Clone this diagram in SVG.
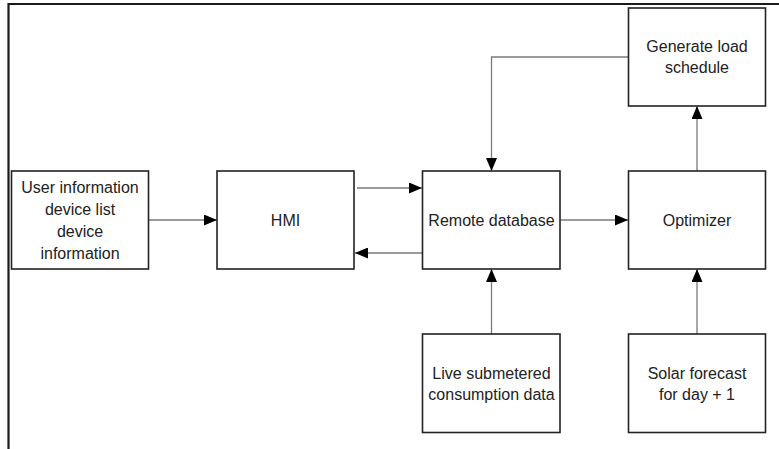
<svg xmlns="http://www.w3.org/2000/svg" width="779" height="449" viewBox="0 0 779 449">
<style>
.box{fill:#fff;stroke:#222;stroke-width:1.6}
.t{font-family:"Liberation Sans",Arial,sans-serif;font-size:16px;fill:#222;text-anchor:middle}
.c{fill:none;stroke:#7a7a7a;stroke-width:1.3}
.frame{fill:none;stroke:#1a1a1a;stroke-width:2.2}
</style>
<defs>
<marker id="ah" viewBox="0 0 13 11" refX="13" refY="5.5" markerWidth="13" markerHeight="11" markerUnits="userSpaceOnUse" orient="auto">
<path d="M0,0 L13,5.5 L0,11 z" fill="#000"/>
</marker>
</defs>
<rect width="779" height="449" fill="#fff"/>
<path class="frame" d="M8.5,449 L8.5,4 L779,4"/>
<g id="connectors">
<line class="c" x1="149" y1="220" x2="217" y2="220" marker-end="url(#ah)"/>
<line class="c" x1="357" y1="188" x2="422" y2="188" marker-end="url(#ah)"/>
<line class="c" x1="422" y1="253" x2="355" y2="253" marker-end="url(#ah)"/>
<line class="c" x1="560" y1="220" x2="628" y2="220" marker-end="url(#ah)"/>
<path class="c" d="M628,57 L491.5,57 L491.5,171" marker-end="url(#ah)"/>
<line class="c" x1="697" y1="171" x2="697" y2="106" marker-end="url(#ah)"/>
<line class="c" x1="491.5" y1="334" x2="491.5" y2="269" marker-end="url(#ah)"/>
<line class="c" x1="697" y1="334" x2="697" y2="269" marker-end="url(#ah)"/>
</g>
<g id="user">
<rect class="box" x="11.5" y="171" width="137" height="98"/>
<text class="t" x="80" y="193">User information</text>
<text class="t" x="80" y="215">device list</text>
<text class="t" x="80" y="237">device</text>
<text class="t" x="80" y="259">information</text>
</g>
<g id="hmi">
<rect class="box" x="217" y="171" width="137" height="98"/>
<text class="t" x="285.5" y="226">HMI</text>
</g>
<g id="remote">
<rect class="box" x="422.5" y="171" width="137.5" height="98"/>
<text class="t" x="491.5" y="226">Remote database</text>
</g>
<g id="optimizer">
<rect class="box" x="628.5" y="171" width="137" height="98"/>
<text class="t" x="697" y="226">Optimizer</text>
</g>
<g id="generate">
<rect class="box" x="628.5" y="8" width="137" height="98"/>
<text class="t" x="697" y="52">Generate load</text>
<text class="t" x="697" y="73">schedule</text>
</g>
<g id="live">
<rect class="box" x="422.5" y="334" width="137.5" height="98.5"/>
<text class="t" x="491.5" y="379">Live submetered</text>
<text class="t" x="491.5" y="400">consumption data</text>
</g>
<g id="solar">
<rect class="box" x="628.5" y="334" width="137" height="98.5"/>
<text class="t" x="697" y="379">Solar forecast</text>
<text class="t" x="697" y="400">for day + 1</text>
</g>
</svg>
